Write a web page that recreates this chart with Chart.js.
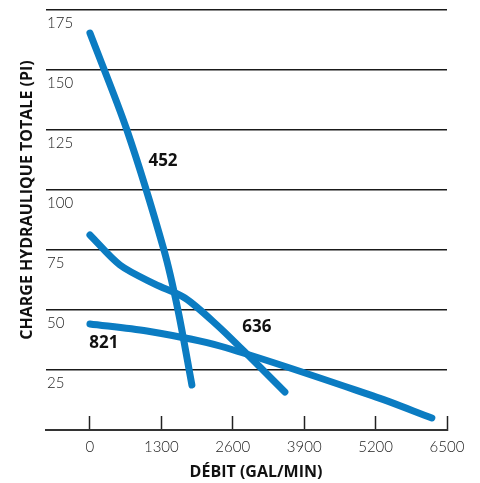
<!DOCTYPE html>
<html>
<head>
<meta charset="utf-8">
<script src="https://cdn.jsdelivr.net/npm/chart.js"></script>
<style>
  body { margin: 0; background: #fff; }
  canvas { display: block; }
</style>
</head>
<body>
<canvas id="pump-chart" width="480" height="483"></canvas>
<script>
// axis ticks
var xTicks = [0, 1300, 2600, 3900, 5200, 6500];
var yTicks = [0, 25, 50, 75, 100, 125, 150, 175];

// pump curves, flow (gal/min) vs total head (ft)
var flow452 = [0, 673, 1347, 1602, 1856];
var head452 = [165.4, 125, 75, 50, 18.75];

var flow636 = [0, 546, 1183, 1729, 2311, 2912, 3549];
var head636 = [81.25, 68.75, 60.8, 55, 43.75, 30.4, 15.8];

var flow821 = [0, 1037, 2366, 5151, 6224];
var head821 = [44.2, 41.25, 35, 14.2, 5];

// curve labels and where they sit (data units)
var curveNames = ['452', '636', '821'];
var labelFlow = [1330, 3040, 255];
var labelHead = [112, 43, 36];

var blue = '#0b7cc2';

function toPoints(xs, ys) {
    return xs.map(function(x, i) { return {x: x, y: ys[i]}; });
}

function curve(name, xs, ys) {
    return {
        label: name,
        data: toPoints(xs, ys),
        borderColor: blue,
        borderWidth: 7,
        borderCapStyle: 'round',
        borderJoinStyle: 'round',
        tension: 0.3,
        pointRadius: 0,
        fill: false
    };
}

var curveLabels = {
    id: 'curveLabels',
    afterDatasetsDraw: function(chart) {
        var ctx = chart.ctx;
        var xs = chart.scales.x, ys = chart.scales.y;
        ctx.save();
        ctx.font = 'bold 17px "Open Sans"';
        ctx.fillStyle = '#111';
        ctx.textAlign = 'center';
        ctx.textBaseline = 'middle';
        curveNames.forEach(function(n, i) {
            ctx.fillText(n, xs.getPixelForValue(labelFlow[i]), ys.getPixelForValue(labelHead[i]));
        });
        ctx.restore();
    }
};

// axis titles sit off-centre in the original, so draw them by hand
var axisTitles = {
    id: 'axisTitles',
    afterDraw: function(chart) {
        var ctx = chart.ctx;
        ctx.save();
        ctx.font = 'bold 16px "Open Sans"';
        ctx.fillStyle = '#111';
        ctx.textAlign = 'center';
        ctx.textBaseline = 'middle';
        ctx.fillText('DÉBIT (GAL/MIN)', 256, 472);
        ctx.translate(27, 200);
        ctx.rotate(-Math.PI / 2);
        ctx.fillText('CHARGE HYDRAULIQUE TOTALE (PI)', 0, 0);
        ctx.restore();
    }
};

function noPad(scale) {
    scale.paddingLeft = 0;
    scale.paddingRight = 0;
    scale.paddingTop = 0;
    scale.paddingBottom = 0;
}

var ctx = document.getElementById('pump-chart').getContext('2d');
var pumpChart = new Chart(ctx, {
    type: 'line',
    data: {
        datasets: [
            curve('452', flow452, head452),
            curve('636', flow636, head636),
            curve('821', flow821, head821)
        ]
    },
    options: {
        responsive: false,
        animation: false,
        layout: {
            padding: {top: 10, right: 33, left: 0, bottom: 0}
        },
        plugins: {
            legend: {display: false},
            tooltip: {enabled: false}
        },
        scales: {
            x: {
                type: 'linear',
                min: -800,
                max: 6500,
                afterBuildTicks: function(scale) {
                    scale.ticks = xTicks.map(function(v) { return {value: v}; });
                },
                afterFit: function(scale) { scale.height = 53; noPad(scale); },
                border: {display: true, color: '#333', width: 2},
                grid: {
                    drawOnChartArea: false,
                    drawTicks: true,
                    tickLength: -14,
                    tickColor: '#222',
                    tickWidth: 1.5
                },
                ticks: {
                    padding: 22,
                    color: '#222',
                    font: {family: 'Lato', size: 15, weight: '300'},
                    maxRotation: 0,
                    callback: function(v) { return String(v); }
                }
            },
            y: {
                min: 0,
                max: 175,
                afterBuildTicks: function(scale) {
                    scale.ticks = yTicks.map(function(v) { return {value: v}; });
                },
                afterFit: function(scale) { scale.width = 46; noPad(scale); },
                border: {display: false},
                grid: {
                    drawTicks: false,
                    color: '#1a1a1a',
                    lineWidth: 1.5
                },
                ticks: {
                    mirror: true,
                    padding: 1,
                    labelOffset: 13,
                    color: '#222',
                    font: {family: 'Lato', size: 15, weight: '300'},
                    callback: function(v) { return v === 0 ? '' : String(v); }
                }
            }
        }
    },
    plugins: [curveLabels, axisTitles]
});
</script>
</body>
</html>
